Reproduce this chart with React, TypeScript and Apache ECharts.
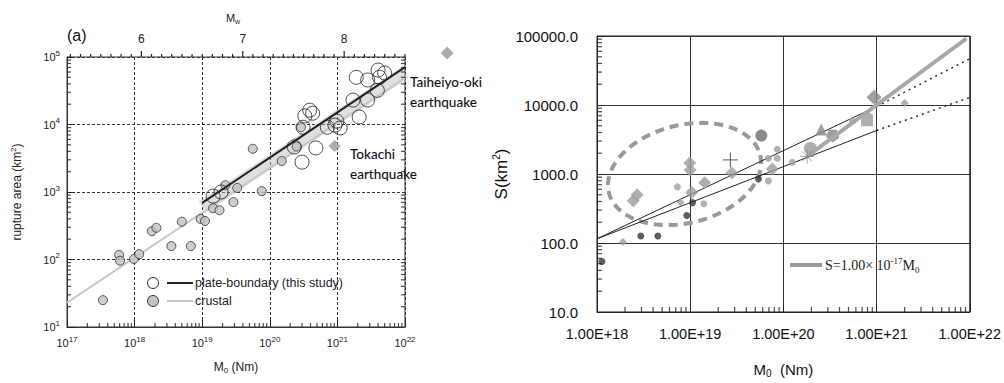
import React, { useEffect, useRef } from "react";
import * as echarts from "echarts";

// ---------------- Panel (a) data ----------------
const mwLabels = [6, 7, 8];
const plateBoundaryEvents: [number, number][] = [
  [1.45e19, 870], [1.9e19, 1000], [2.3e20, 4650], [3.0e20, 2770], [4.8e20, 4500],
  [3.1e20, 9100], [3.3e20, 13400], [3.9e20, 16300], [4.3e20, 14700], [7.1e20, 9100],
  [9.2e20, 9800], [1.1e21, 8900], [9.8e20, 11200], [1.7e21, 23000], [2.8e21, 23000],
  [2.1e21, 12900], [1.9e21, 50000], [2.8e21, 45700], [4.0e21, 64000], [5.0e21, 58000],
  [4.2e21, 50000], [3.9e21, 32000],
];
const crustalEvents: [number, number][] = [
  [3.4e17, 25], [5.9e17, 117], [6.1e17, 96], [9.8e17, 102], [1.17e18, 120],
  [1.8e18, 263], [2.1e18, 295], [3.5e18, 158], [5.0e18, 363], [6.8e18, 158],
  [9.5e18, 398], [1.1e19, 372], [1.45e19, 575], [1.8e19, 537], [2.9e19, 708],
  [3.3e19, 1150], [2.2e19, 1260], [7.6e19, 1030], [5.6e19, 4370], [1.5e20, 2880],
  [2.5e20, 4700], [2.9e20, 9100],
];
const tokachiEvent: [number, number][] = [[9.1e20, 4800]];
const taiheiyoEvent: [number, number][] = [[4.2e22, 115000]];
const plateFit: [number, number][] = [[1e19, 690], [1e22, 70800]];
const crustalFit: [number, number][] = [[1e17, 23], [1e22, 49000]];
const crustalBand: [number, number][] = [[1e19, 600], [1e22, 59000]];

// ---------------- Right panel data ----------------
const grayDiamondsLarge: [number, number][] = [
  [9.9e18, 1440], [1.0e19, 1140], [2.8e19, 1030], [1.43e19, 745], [7.6e19, 1180],
  [2.45e18, 410], [2.7e18, 500], [1.04e19, 540],
];
const grayDiamondBig: [number, number][] = [[9.4e20, 13000]];
const grayDiamondsSmall: [number, number][] = [[0.98e18, 220], [2.0e21, 10700], [7.9e18, 385], [1.9e18, 103]];
const grayCirclesSmall: [number, number][] = [
  [7.3e18, 650], [1.4e19, 370], [8.6e19, 2280], [8.6e19, 1690], [6.9e19, 1690],
  [6.9e19, 795], [1.25e20, 1480], [5.5e20, 5900],
];
const darkCircles: [number, number][] = [
  [1.13e18, 54], [2.95e18, 126], [4.5e18, 126], [9.2e18, 250], [1.06e19, 385], [5.4e19, 850],
];
const bigDarkCircle: [number, number][] = [[5.8e19, 3600]];
const bigGrayCircle: [number, number][] = [[1.95e20, 2350]];
const triangleEvent: [number, number][] = [[2.55e20, 4400]];
const pentagonEvent: [number, number][] = [[3.35e20, 3700]];
const houseEvent: [number, number][] = [[7.9e20, 6300]];
const asteriskEvent: [number, number][] = [[1.8e20, 1800]];
const crossEvent: [number, number][] = [[2.7e19, 1600]];
const upperFit: [number, number][] = [[1e18, 115], [1e21, 9500]];
const upperExt: [number, number][] = [[1e21, 9500], [1e22, 46800]];
const lowerFit: [number, number][] = [[1e18, 115], [1e21, 4270]];
const lowerExt: [number, number][] = [[1e21, 4270], [1e22, 12900]];
const scalingLaw: [number, number][] = [[1.8e20, 1800], [9.2e21, 92000]];
const ellipseCenter: [number, number][] = [[8.7e18, 1000]];

const SANS = '"Liberation Sans", Arial, sans-serif';
const SERIF = '"Liberation Serif", "DejaVu Serif", serif';

function logMinorTicks(kFrom: number, kTo: number, fixed: number, isX: boolean) {
  const out: number[][] = [];
  for (let k = kFrom; k <= kTo; k++) {
    for (let m = 2; m <= 9; m++) {
      const v = m * Math.pow(10, k);
      out.push(isX ? [v, fixed] : [fixed, v]);
    }
  }
  return out;
}

// minor tick marks drawn as thin rect symbols placed by the axes' own scales
function tickSeries(xAxisIndex: number, yAxisIndex: number, data: number[][], dir: "up" | "right" | "left", len: number) {
  const vertical = dir === "up";
  return {
    type: "scatter",
    xAxisIndex,
    yAxisIndex,
    silent: true,
    clip: false,
    z: 6,
    symbol: "rect",
    symbolSize: vertical ? [1.2, len] : [len, 1.2],
    symbolOffset: dir === "up" ? [0, -len / 2] : dir === "right" ? [len / 2, 0] : [-len / 2, 0],
    itemStyle: { color: "#222" },
    data,
  };
}

const supRich = {
  sup: { fontSize: 8, verticalAlign: "top", lineHeight: 16, fontFamily: SANS, color: "#222" },
};

export default function App() {
  const ref = useRef<HTMLDivElement>(null);
  useEffect(() => {
    document.body.style.margin = "0";
    const chart = echarts.init(ref.current!, null, { renderer: "svg" });

    const mwData: number[][] = [];
    for (let i = 53; i <= 86; i++) {
      mwData.push([i / 10, 100000, i % 10 === 0 && mwLabels.includes(i / 10) ? 1 : 0]);
    }

    const scatter = (name: string, x: number, y: number, data: any, symbol: any, size: any, item: any, extra: any = {}) => ({
      name, type: "scatter", xAxisIndex: x, yAxisIndex: y, data, symbol, symbolSize: size,
      itemStyle: item, silent: true, z: 4, ...extra,
    });
    const line = (x: number, y: number, data: any, ls: any, z = 3) => ({
      type: "line", xAxisIndex: x, yAxisIndex: y, data, showSymbol: false, symbol: "none",
      lineStyle: ls, silent: true, z,
    });

    const option: any = {
      animation: false,
      backgroundColor: "#fff",
      grid: [
        { left: 67, top: 57, width: 338, height: 270, show: true, borderColor: "#333", borderWidth: 1, backgroundColor: "transparent" },
        { left: 597, top: 36, width: 374, height: 280, show: true, borderColor: "#222", borderWidth: 1, backgroundColor: "transparent" },
      ],
      xAxis: [
        {
          type: "log", gridIndex: 0, min: 1e17, max: 1e22, logBase: 10,
          axisLine: { lineStyle: { color: "#333" } },
          axisTick: { show: true, inside: true, length: 7, lineStyle: { color: "#222" } },
          splitLine: { show: true, lineStyle: { color: "#333", type: [3, 2], width: 1 } },
          axisLabel: {
            margin: 8, color: "#222", fontFamily: SANS, fontSize: 11, lineHeight: 16,
            formatter: (v: number) => `10{sup|${Math.round(Math.log10(v))}}`,
            rich: supRich,
          },
          name: "M{sub|0} (Nm)", nameLocation: "middle", nameGap: 33,
          nameTextStyle: {
            color: "#222", fontFamily: SANS, fontSize: 12, lineHeight: 14,
            rich: { sub: { fontSize: 8, verticalAlign: "bottom", lineHeight: 14, fontFamily: SANS, color: "#222" } },
          },
        },
        { type: "value", gridIndex: 0, min: (2 / 3) * (17 - 9.1), max: (2 / 3) * (22 - 9.1), show: false },
        {
          type: "log", gridIndex: 1, min: 1e18, max: 1e22, logBase: 10,
          axisLine: { lineStyle: { color: "#222" } },
          axisTick: { show: true, inside: true, length: 8, lineStyle: { color: "#222" } },
          splitLine: { show: true, lineStyle: { color: "#333", width: 1 } },
          axisLabel: {
            margin: 14, color: "#111", fontFamily: SANS, fontSize: 14.5,
            formatter: (v: number) => v.toExponential(2).toUpperCase(),
          },
          name: "M{sub|0}  (Nm)", nameLocation: "middle", nameGap: 48,
          nameTextStyle: {
            color: "#111", fontFamily: SANS, fontSize: 15, lineHeight: 18,
            rich: { sub: { fontSize: 10, verticalAlign: "bottom", lineHeight: 18, fontFamily: SANS, color: "#111" } },
          },
        },
      ],
      yAxis: [
        {
          type: "log", gridIndex: 0, min: 10, max: 100000, logBase: 10,
          axisLine: { lineStyle: { color: "#333" } },
          axisTick: { show: true, inside: true, length: 7, lineStyle: { color: "#222" } },
          splitLine: { show: true, lineStyle: { color: "#333", type: [3, 2], width: 1 } },
          axisLabel: {
            margin: 7, color: "#222", fontFamily: SANS, fontSize: 11, lineHeight: 16,
            formatter: (v: number) => `10{sup|${Math.round(Math.log10(v))}}`,
            rich: supRich,
          },
          name: "rupture area (km{sup|2})", nameLocation: "middle", nameGap: 42, nameRotate: 90,
          nameTextStyle: {
            color: "#222", fontFamily: SANS, fontSize: 12, lineHeight: 16,
            rich: { sup: { fontSize: 8, verticalAlign: "top", lineHeight: 16, fontFamily: SANS, color: "#222" } },
          },
        },
        {
          type: "log", gridIndex: 1, min: 10, max: 100000, logBase: 10,
          axisLine: { lineStyle: { color: "#222" } },
          axisTick: { show: true, inside: true, length: 8, lineStyle: { color: "#222" } },
          splitLine: { show: true, lineStyle: { color: "#333", width: 1 } },
          axisLabel: {
            margin: 19, color: "#111", fontFamily: SANS, fontSize: 15,
            formatter: (v: number) => v.toFixed(1),
          },
          name: "S(km{sup|2})", nameLocation: "middle", nameGap: 74, nameRotate: 90,
          nameTextStyle: {
            color: "#111", fontFamily: SANS, fontSize: 17, lineHeight: 20,
            rich: { sup: { fontSize: 10, verticalAlign: "top", lineHeight: 20, fontFamily: SANS, color: "#111" } },
          },
        },
      ],
      series: [
        // ---- left panel ----
        line(0, 0, crustalBand, { color: "rgba(185,185,185,0.45)", width: 13 }, 2),
        line(0, 0, crustalFit, { color: "#c8c8c8", width: 2 }, 3),
        line(0, 0, plateFit, { color: "#222", width: 2 }, 5),
        scatter("crustal", 0, 0, crustalEvents, "circle", 9, { color: "#c2c2c2", borderColor: "#333", borderWidth: 1 }),
        scatter("plate", 0, 0, plateBoundaryEvents, "circle", 14, { color: "rgba(255,255,255,0)", borderColor: "#222", borderWidth: 1 }),
        scatter("tokachi", 0, 0, tokachiEvent, "diamond", 12, { color: "#999" }),
        scatter("taiheiyo", 0, 0, taiheiyoEvent, "diamond", 13, { color: "#999" }, { clip: false }),
        tickSeries(0, 0, logMinorTicks(17, 21, 10, true), "up", 4),
        tickSeries(0, 0, logMinorTicks(1, 4, 1e17, false), "right", 4),
        tickSeries(0, 0, logMinorTicks(1, 4, 1e22, false), "left", 4),
        {
          type: "custom", xAxisIndex: 1, yAxisIndex: 0, silent: true, clip: false, z: 6,
          renderItem: (_p: any, api: any) => {
            const p = api.coord([api.value(0), api.value(1)]);
            const major = api.value(2) === 1;
            const children: any[] = [
              { type: "line", shape: { x1: p[0], y1: p[1], x2: p[0], y2: p[1] - (major ? 6 : 3) }, style: { stroke: "#222", lineWidth: 1.2 } },
            ];
            if (major) {
              children.push({
                type: "text", x: p[0], y: p[1] - 18,
                style: { text: String(api.value(0)), fill: "#222", fontSize: 12, fontFamily: SANS, align: "center", verticalAlign: "middle" },
              });
            }
            return { type: "group", children };
          },
          data: mwData,
        },
        // ---- right panel ----
        {
          type: "custom", xAxisIndex: 2, yAxisIndex: 1, silent: true, clip: false, z: 2,
          renderItem: (_p: any, api: any) => {
            const c = api.coord([api.value(0), api.value(1)]);
            const a = 78, b = 49, th = (14 * Math.PI) / 180;
            const pts: number[][] = [];
            for (let i = 0; i < 96; i++) {
              const t = (i / 96) * Math.PI * 2;
              const u = a * Math.cos(t), v = b * Math.sin(t);
              pts.push([c[0] + u * Math.cos(th) + v * Math.sin(th), c[1] - u * Math.sin(th) + v * Math.cos(th)]);
            }
            return { type: "polygon", shape: { points: pts }, style: { fill: "none", stroke: "#9a9a9a", lineWidth: 4, lineDash: [9, 6] } };
          },
          data: ellipseCenter,
        },
        line(2, 1, upperFit, { color: "#222", width: 1 }),
        line(2, 1, lowerFit, { color: "#222", width: 1 }),
        line(2, 1, upperExt, { color: "#333", width: 1.5, type: [2, 4] }),
        line(2, 1, lowerExt, { color: "#333", width: 1.5, type: [2, 4] }),
        line(2, 1, scalingLaw, { color: "#a8a8a8", width: 4 }, 5),
        scatter("gdl", 2, 1, grayDiamondsLarge, "diamond", 13, { color: "#9c9c9c" }),
        scatter("gdb", 2, 1, grayDiamondBig, "diamond", 15, { color: "#8a8a8a" }),
        scatter("gds", 2, 1, grayDiamondsSmall, "diamond", 8, { color: "#9c9c9c" }),
        scatter("gcs", 2, 1, grayCirclesSmall, "circle", 7, { color: "#a0a0a0" }),
        scatter("dc", 2, 1, darkCircles, "circle", 7, { color: "#333" }),
        scatter("bdc", 2, 1, bigDarkCircle, "circle", 12, { color: "#6e6e6e" }),
        scatter("bgc", 2, 1, bigGrayCircle, "circle", 13, { color: "#9a9a9a" }),
        scatter("tri", 2, 1, triangleEvent, "triangle", 12, { color: "#888" }),
        scatter("pent", 2, 1, pentagonEvent, "path://M5,0L10,3.8L8.1,10L1.9,10L0,3.8Z", 13, { color: "#888" }, { symbolRotate: 35 }),
        scatter("house", 2, 1, houseEvent, "path://M0,3L5,0L10,3L10,13L0,13Z", [12, 15], { color: "#9a9a9a" }),
        scatter("ast", 2, 1, asteriskEvent, "path://M0,5L10,5M5,0L5,10M1.5,1.5L8.5,8.5M8.5,1.5L1.5,8.5", 14, { color: "transparent", borderColor: "#888", borderWidth: 1 }, { z: 7 }),
        scatter("cross", 2, 1, crossEvent, "path://M0,5L10,5M5,0L5,10", 15, { color: "transparent", borderColor: "#333", borderWidth: 1 }),
        tickSeries(2, 1, logMinorTicks(18, 21, 10, true), "up", 5),
        tickSeries(2, 1, logMinorTicks(1, 4, 1e18, false), "right", 5),
      ],
      graphic: [
        { type: "text", x: 67, y: 35, style: { text: "(a)", fontSize: 16, fontFamily: SANS, fill: "#111", verticalAlign: "middle" } },
        {
          type: "text", x: 233, y: 18,
          style: {
            text: "M{sub|w}", fontSize: 11, fontFamily: SANS, fill: "#222", align: "center", verticalAlign: "middle", lineHeight: 14,
            rich: { sub: { fontSize: 7, verticalAlign: "bottom", lineHeight: 14, fontFamily: SANS, fill: "#222" } },
          },
        },
        { type: "text", x: 410, y: 82, style: { text: "Taiheiyo-oki", fontSize: 13.5, fontFamily: "Lato, sans-serif", fontWeight: 500, fill: "#111", verticalAlign: "middle" } },
        { type: "text", x: 410, y: 102, style: { text: "earthquake", fontSize: 13.5, fontFamily: "Lato, sans-serif", fontWeight: 500, fill: "#111", verticalAlign: "middle" } },
        { type: "text", x: 350, y: 154, style: { text: "Tokachi", fontSize: 13.5, fontFamily: "Lato, sans-serif", fontWeight: 500, fill: "#111", verticalAlign: "middle" } },
        { type: "text", x: 350, y: 174, style: { text: "earthquake", fontSize: 13.5, fontFamily: "Lato, sans-serif", fontWeight: 500, fill: "#111", verticalAlign: "middle" } },
        { type: "circle", shape: { cx: 153, cy: 283, r: 5.5 }, style: { fill: "#fff", stroke: "#222", lineWidth: 1 }, z: 10 },
        { type: "line", shape: { x1: 167, y1: 283, x2: 193, y2: 283 }, style: { stroke: "#222", lineWidth: 2 }, z: 10 },
        { type: "text", x: 195, y: 283, style: { text: "plate-boundary (this study)", fontSize: 12.5, fontFamily: SANS, fill: "#222", verticalAlign: "middle" }, z: 10 },
        { type: "circle", shape: { cx: 153, cy: 301, r: 5.5 }, style: { fill: "#c2c2c2", stroke: "#333", lineWidth: 1 }, z: 10 },
        { type: "line", shape: { x1: 167, y1: 301, x2: 193, y2: 301 }, style: { stroke: "#c8c8c8", lineWidth: 2 }, z: 10 },
        { type: "text", x: 195, y: 301, style: { text: "crustal", fontSize: 12.5, fontFamily: SANS, fill: "#222", verticalAlign: "middle" }, z: 10 },
        { type: "line", shape: { x1: 790, y1: 265, x2: 822, y2: 265 }, style: { stroke: "#9a9a9a", lineWidth: 4 }, z: 10 },
        {
          type: "text", x: 825, y: 265, z: 10,
          style: {
            text: "S=1.00× 10{sup|-17}M{sub|0}", fontSize: 14, fontFamily: SERIF, fill: "#222", verticalAlign: "middle", lineHeight: 18,
            rich: {
              sup: { fontSize: 9, verticalAlign: "top", lineHeight: 18, fontFamily: SERIF, fill: "#222" },
              sub: { fontSize: 9, verticalAlign: "bottom", lineHeight: 18, fontFamily: SERIF, fill: "#222" },
            },
          },
        },
      ],
    };
    chart.setOption(option);
    return () => chart.dispose();
  }, []);
  return <div ref={ref} style={{ width: 1004, height: 383 }} />;
}
